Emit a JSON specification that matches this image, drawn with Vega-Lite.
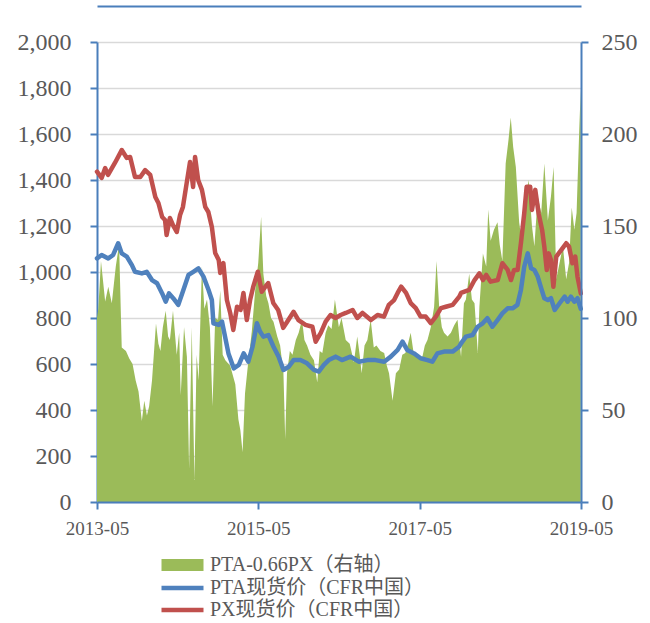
{
"$schema": "https://vega.github.io/schema/vega-lite/v6.json",
"width": 484, "height": 460,
"autosize": "none",
"padding": {"left": 97, "top": 42, "right": 69, "bottom": 121},
"background": "white",
"config": {
  "view": {"stroke": null},
  "font": "Liberation Serif, Noto Sans CJK SC",
  "axis": {"labelFont": "Liberation Serif", "labelColor": "#595959", "domainColor": "#4A7EBB", "domainWidth": 2, "tickColor": "#4A7EBB", "tickWidth": 2, "tickSize": 7, "gridColor": "#D9D9D9", "gridWidth": 1.5, "labelOverlap": false, "labelFlush": false, "title": null},
  "legend": {"labelFont": "Liberation Serif, Noto Sans CJK SC", "labelFontSize": 20, "labelColor": "#595959", "labelLimit": 400, "padding": 0, "symbolOpacity": 1}
},
"datasets": {
"px": [
{"d":"2013-05-01","v":1436},{"d":"2013-05-22","v":1409},{"d":"2013-06-07","v":1452},{"d":"2013-06-20","v":1422},{"d":"2013-07-21","v":1474},{"d":"2013-08-21","v":1530},{"d":"2013-09-13","v":1496},{"d":"2013-09-28","v":1500},{"d":"2013-10-20","v":1413},{"d":"2013-11-13","v":1413},{"d":"2013-12-05","v":1443},{"d":"2013-12-28","v":1422},
{"d":"2014-01-20","v":1326},{"d":"2014-02-03","v":1300},{"d":"2014-02-20","v":1239},{"d":"2014-03-05","v":1226},{"d":"2014-03-12","v":1161},{"d":"2014-03-27","v":1235},{"d":"2014-04-10","v":1204},{"d":"2014-04-27","v":1174},{"d":"2014-05-12","v":1248},{"d":"2014-05-25","v":1283},{"d":"2014-06-11","v":1387},{"d":"2014-06-26","v":1478},{"d":"2014-07-10","v":1370},{"d":"2014-07-19","v":1500},{"d":"2014-08-02","v":1400},{"d":"2014-08-19","v":1357},{"d":"2014-09-03","v":1283},{"d":"2014-09-17","v":1261},{"d":"2014-10-03","v":1196},{"d":"2014-10-18","v":1083},{"d":"2014-11-03","v":1052},{"d":"2014-11-10","v":996},{"d":"2014-11-24","v":1039},{"d":"2014-12-10","v":878},{"d":"2014-12-25","v":822},
{"d":"2015-01-08","v":748},{"d":"2015-01-25","v":849},{"d":"2015-02-10","v":835},{"d":"2015-02-23","v":909},{"d":"2015-03-10","v":791},{"d":"2015-03-25","v":878},{"d":"2015-04-08","v":935},{"d":"2015-04-29","v":1001},{"d":"2015-05-17","v":914},{"d":"2015-06-02","v":936},{"d":"2015-06-15","v":952},{"d":"2015-07-08","v":865},{"d":"2015-07-30","v":835},{"d":"2015-08-22","v":757},{"d":"2015-09-09","v":784},{"d":"2015-10-08","v":827},{"d":"2015-10-30","v":791},{"d":"2015-12-01","v":770},
{"d":"2016-01-01","v":762},{"d":"2016-01-16","v":697},{"d":"2016-02-08","v":735},{"d":"2016-03-01","v":784},{"d":"2016-03-23","v":813},{"d":"2016-04-15","v":800},{"d":"2016-05-08","v":813},{"d":"2016-05-31","v":822},{"d":"2016-07-01","v":835},{"d":"2016-07-22","v":800},{"d":"2016-08-15","v":822},{"d":"2016-09-22","v":791},{"d":"2016-10-22","v":813},{"d":"2016-11-20","v":806},{"d":"2016-12-12","v":857},
{"d":"2017-01-05","v":878},{"d":"2017-01-21","v":909},{"d":"2017-02-06","v":936},{"d":"2017-02-28","v":909},{"d":"2017-03-21","v":865},{"d":"2017-04-13","v":843},{"d":"2017-05-05","v":806},{"d":"2017-05-28","v":806},{"d":"2017-06-20","v":778},{"d":"2017-07-13","v":806},{"d":"2017-08-05","v":843},{"d":"2017-08-27","v":849},{"d":"2017-09-27","v":857},{"d":"2017-10-27","v":893},{"d":"2017-11-04","v":909},{"d":"2017-12-11","v":922},
{"d":"2018-01-04","v":965},{"d":"2018-01-26","v":994},{"d":"2018-02-11","v":965},{"d":"2018-02-26","v":987},{"d":"2018-03-18","v":958},{"d":"2018-04-19","v":965},{"d":"2018-05-10","v":1038},{"d":"2018-06-03","v":1009},{"d":"2018-06-18","v":965},{"d":"2018-07-02","v":1009},{"d":"2018-07-18","v":1009},{"d":"2018-08-02","v":1125},{"d":"2018-08-17","v":1255},{"d":"2018-08-28","v":1371},{"d":"2018-09-13","v":1371},{"d":"2018-09-21","v":1270},{"d":"2018-10-06","v":1357},{"d":"2018-10-21","v":1255},{"d":"2018-11-06","v":1183},{"d":"2018-11-16","v":1110},{"d":"2018-11-27","v":1009},{"d":"2018-12-06","v":1081},{"d":"2018-12-16","v":1052},{"d":"2018-12-27","v":936},
{"d":"2019-01-09","v":1067},{"d":"2019-02-01","v":1096},{"d":"2019-02-23","v":1125},{"d":"2019-03-08","v":1110},{"d":"2019-03-23","v":1038},{"d":"2019-04-05","v":1067},{"d":"2019-04-15","v":980},{"d":"2019-04-30","v":907}
],
"pta": [
{"d":"2013-05-01","v":1059},{"d":"2013-05-22","v":1074},{"d":"2013-06-21","v":1059},{"d":"2013-07-13","v":1074},{"d":"2013-08-05","v":1125},{"d":"2013-08-21","v":1081},{"d":"2013-09-13","v":1067},{"d":"2013-10-06","v":1030},{"d":"2013-10-20","v":1001},{"d":"2013-11-20","v":994},{"d":"2013-12-12","v":1001},
{"d":"2014-01-05","v":965},{"d":"2014-01-28","v":951},{"d":"2014-02-20","v":907},{"d":"2014-03-08","v":871},{"d":"2014-03-23","v":907},{"d":"2014-04-11","v":886},{"d":"2014-05-04","v":857},{"d":"2014-05-27","v":922},{"d":"2014-06-19","v":987},{"d":"2014-07-11","v":1001},{"d":"2014-08-03","v":1016},{"d":"2014-08-26","v":980},{"d":"2014-09-18","v":922},{"d":"2014-10-03","v":878},{"d":"2014-10-10","v":777},{"d":"2014-11-03","v":770},{"d":"2014-11-18","v":784},{"d":"2014-12-17","v":646},
{"d":"2015-01-10","v":581},{"d":"2015-02-02","v":596},{"d":"2015-02-24","v":646},{"d":"2015-03-17","v":610},{"d":"2015-04-05","v":675},{"d":"2015-04-25","v":777},{"d":"2015-05-09","v":741},{"d":"2015-05-24","v":719},{"d":"2015-06-16","v":726},{"d":"2015-07-09","v":675},{"d":"2015-08-01","v":632},{"d":"2015-08-23","v":574},{"d":"2015-09-16","v":588},{"d":"2015-10-08","v":617},{"d":"2015-11-08","v":617},{"d":"2015-12-08","v":603},
{"d":"2016-01-08","v":574},{"d":"2016-01-30","v":567},{"d":"2016-02-22","v":596},{"d":"2016-03-15","v":617},{"d":"2016-04-15","v":632},{"d":"2016-05-14","v":617},{"d":"2016-06-22","v":632},{"d":"2016-07-29","v":610},{"d":"2016-09-06","v":617},{"d":"2016-10-13","v":617},{"d":"2016-11-21","v":610},{"d":"2016-12-21","v":632},
{"d":"2017-01-21","v":661},{"d":"2017-02-12","v":697},{"d":"2017-03-05","v":661},{"d":"2017-04-05","v":646},{"d":"2017-05-05","v":625},{"d":"2017-06-05","v":617},{"d":"2017-06-27","v":610},{"d":"2017-07-20","v":646},{"d":"2017-08-19","v":654},{"d":"2017-09-27","v":654},{"d":"2017-10-26","v":675},{"d":"2017-11-04","v":690},{"d":"2017-11-26","v":719},{"d":"2017-12-26","v":726},
{"d":"2018-01-18","v":762},{"d":"2018-02-10","v":777},{"d":"2018-03-03","v":799},{"d":"2018-03-26","v":762},{"d":"2018-04-18","v":791},{"d":"2018-05-10","v":820},{"d":"2018-06-03","v":842},{"d":"2018-06-25","v":842},{"d":"2018-07-17","v":857},{"d":"2018-08-02","v":922},{"d":"2018-08-17","v":1023},{"d":"2018-09-02","v":1081},{"d":"2018-09-17","v":1016},{"d":"2018-10-02","v":1009},{"d":"2018-10-17","v":980},{"d":"2018-11-02","v":929},{"d":"2018-11-16","v":886},{"d":"2018-12-02","v":878},{"d":"2018-12-16","v":886},
{"d":"2019-01-02","v":835},{"d":"2019-01-24","v":864},{"d":"2019-02-16","v":893},{"d":"2019-03-01","v":871},{"d":"2019-03-16","v":893},{"d":"2019-04-01","v":871},{"d":"2019-04-15","v":886},{"d":"2019-04-30","v":840}
],
"spread": [
{"d":"2013-05-01","v":100},{"d":"2013-05-07","v":105},{"d":"2013-05-19","v":131},{"d":"2013-06-07","v":109},{"d":"2013-06-21","v":117},{"d":"2013-07-07","v":108},{"d":"2013-07-25","v":128},{"d":"2013-08-09","v":140},{"d":"2013-08-21","v":84},{"d":"2013-09-09","v":82},{"d":"2013-09-24","v":78},{"d":"2013-10-09","v":75},{"d":"2013-10-23","v":66},{"d":"2013-11-05","v":60},{"d":"2013-11-20","v":44},{"d":"2013-12-01","v":55},{"d":"2013-12-13","v":47},{"d":"2013-12-23","v":52},
{"d":"2014-01-05","v":66},{"d":"2014-01-23","v":97},{"d":"2014-02-03","v":86},{"d":"2014-02-12","v":82},{"d":"2014-02-23","v":95},{"d":"2014-03-08","v":104},{"d":"2014-03-19","v":90},{"d":"2014-03-27","v":88},{"d":"2014-04-10","v":104},{"d":"2014-04-27","v":80},{"d":"2014-05-08","v":92},{"d":"2014-05-15","v":58},{"d":"2014-05-30","v":95},{"d":"2014-06-12","v":79},{"d":"2014-06-22","v":18},{"d":"2014-07-04","v":95},{"d":"2014-07-16","v":12},{"d":"2014-07-26","v":80},{"d":"2014-08-04","v":66},{"d":"2014-08-19","v":128},{"d":"2014-08-30","v":105},{"d":"2014-09-11","v":110},{"d":"2014-09-24","v":95},{"d":"2014-10-06","v":52},{"d":"2014-10-18","v":100},{"d":"2014-10-31","v":99},{"d":"2014-11-10","v":115},{"d":"2014-11-21","v":80},{"d":"2014-12-03","v":77},{"d":"2014-12-25","v":74},
{"d":"2015-01-17","v":64},{"d":"2015-01-31","v":45},{"d":"2015-02-09","v":39},{"d":"2015-02-19","v":27},{"d":"2015-03-02","v":59},{"d":"2015-03-14","v":73},{"d":"2015-04-02","v":93},{"d":"2015-04-17","v":115},{"d":"2015-05-01","v":130},{"d":"2015-05-14","v":155},{"d":"2015-05-24","v":124},{"d":"2015-06-06","v":112},{"d":"2015-06-16","v":108},{"d":"2015-06-28","v":100},{"d":"2015-07-09","v":98},{"d":"2015-07-26","v":90},{"d":"2015-08-08","v":85},{"d":"2015-08-23","v":70},{"d":"2015-08-31","v":34},{"d":"2015-09-08","v":70},{"d":"2015-09-21","v":82},{"d":"2015-10-03","v":80},{"d":"2015-10-18","v":88},{"d":"2015-10-31","v":92},{"d":"2015-11-15","v":99},{"d":"2015-11-26","v":88},{"d":"2015-12-08","v":85},{"d":"2015-12-23","v":80},
{"d":"2016-01-08","v":77},{"d":"2016-01-23","v":65},{"d":"2016-02-03","v":82},{"d":"2016-02-15","v":81},{"d":"2016-03-01","v":92},{"d":"2016-03-13","v":96},{"d":"2016-03-28","v":94},{"d":"2016-04-12","v":110},{"d":"2016-04-30","v":95},{"d":"2016-05-12","v":100},{"d":"2016-05-31","v":88},{"d":"2016-06-18","v":86},{"d":"2016-07-07","v":76},{"d":"2016-07-22","v":90},{"d":"2016-08-02","v":80},{"d":"2016-08-11","v":70},{"d":"2016-08-24","v":85},{"d":"2016-09-06","v":88},{"d":"2016-09-21","v":99},{"d":"2016-10-05","v":84},{"d":"2016-10-17","v":85},{"d":"2016-11-04","v":82},{"d":"2016-11-21","v":81},{"d":"2016-12-03","v":74},{"d":"2016-12-13","v":70},{"d":"2016-12-29","v":55},
{"d":"2017-01-13","v":70},{"d":"2017-01-28","v":72},{"d":"2017-02-11","v":80},{"d":"2017-02-25","v":81},{"d":"2017-03-07","v":85},{"d":"2017-03-21","v":92},{"d":"2017-04-02","v":82},{"d":"2017-04-13","v":81},{"d":"2017-04-28","v":78},{"d":"2017-05-13","v":79},{"d":"2017-05-24","v":85},{"d":"2017-06-05","v":88},{"d":"2017-06-20","v":95},{"d":"2017-07-05","v":106},{"d":"2017-07-16","v":131},{"d":"2017-07-28","v":106},{"d":"2017-08-09","v":95},{"d":"2017-08-19","v":92},{"d":"2017-09-04","v":90},{"d":"2017-09-19","v":92},{"d":"2017-10-04","v":96},{"d":"2017-10-19","v":99},{"d":"2017-11-04","v":79},{"d":"2017-11-17","v":108},{"d":"2017-11-26","v":110},{"d":"2017-12-11","v":124},{"d":"2017-12-23","v":110},
{"d":"2018-01-04","v":108},{"d":"2018-01-19","v":81},{"d":"2018-01-26","v":106},{"d":"2018-02-11","v":135},{"d":"2018-02-26","v":128},{"d":"2018-03-07","v":159},{"d":"2018-03-18","v":142},{"d":"2018-04-02","v":148},{"d":"2018-04-18","v":152},{"d":"2018-04-28","v":140},{"d":"2018-05-10","v":131},{"d":"2018-05-25","v":184},{"d":"2018-06-07","v":197},{"d":"2018-06-17","v":209},{"d":"2018-06-28","v":193},{"d":"2018-07-10","v":182},{"d":"2018-07-25","v":152},{"d":"2018-08-09","v":139},{"d":"2018-08-24","v":166},{"d":"2018-09-06","v":175},{"d":"2018-09-21","v":150},{"d":"2018-10-02","v":139},{"d":"2018-10-17","v":166},{"d":"2018-11-02","v":157},{"d":"2018-11-16","v":184},{"d":"2018-12-02","v":153},{"d":"2018-12-16","v":166},{"d":"2018-12-28","v":182},
{"d":"2019-01-09","v":121},{"d":"2019-01-24","v":130},{"d":"2019-02-08","v":139},{"d":"2019-02-23","v":121},{"d":"2019-03-08","v":130},{"d":"2019-03-20","v":160},{"d":"2019-04-01","v":148},{"d":"2019-04-11","v":157},{"d":"2019-04-23","v":202},{"d":"2019-04-30","v":225}
]
},
"layer": [
 {"data": {"name": "spread"},
  "mark": {"type": "area", "interpolate": "linear", "opacity": 1},
  "encoding": {
   "x": {"field": "d", "type": "temporal", "scale": {"type": "utc", "domain": [{"year":2013,"month":5,"date":1,"utc":true},{"year":2019,"month":5,"date":1,"utc":true}], "nice": false},
         "axis": {"values": [{"year":2013,"month":5,"date":1,"utc":true},{"year":2015,"month":5,"date":1,"utc":true},{"year":2017,"month":5,"date":1,"utc":true},{"year":2019,"month":5,"date":1,"utc":true}], "format": "%Y-%m", "labelFontSize": 19, "labelPadding": 10, "grid": false, "zindex": 1}},
   "y": {"field": "v", "type": "quantitative", "scale": {"domain": [0, 250], "nice": false},
         "axis": {"orient": "right", "values": [0, 50, 100, 150, 200, 250], "grid": false, "labelFontSize": 24, "labelPadding": 13, "zindex": 1}},
   "fill": {"datum": "PTA-0.66PX（右轴）", "type": "nominal", "scale": {"domain": ["PTA-0.66PX（右轴）"], "range": ["#9BBB59"]},
            "legend": {"orient": "none", "legendX": 75.5, "legendY": 513, "title": null, "symbolType": "M-6,-1.7H6V1.7H-6Z", "symbolSize": 49, "symbolStrokeWidth": 0, "labelOffset": 17.5}}
  }},
 {"layer": [
  {"data": {"name": "pta"},
   "mark": {"type": "line", "strokeWidth": 4.5, "strokeJoin": "round", "strokeCap": "round"},
   "encoding": {
    "x": {"field": "d", "type": "temporal", "axis": {"orient": "top", "offset": 36, "labels": false, "ticks": false, "grid": false, "domainColor": "#4A7EBB", "domainWidth": 2}},
    "y": {"field": "v", "type": "quantitative", "scale": {"domain": [0, 2000], "nice": false},
          "axis": {"orient": "left", "values": [0,200,400,600,800,1000,1200,1400,1600,1800,2000], "format": ",d", "grid": true, "labelFontSize": 24, "labelPadding": 19, "zindex": 0}},
    "stroke": {"datum": "PTA现货价（CFR中国）", "type": "nominal", "scale": {"domain": ["PTA现货价（CFR中国）", "PX现货价（CFR中国）"], "range": ["#4F81BD", "#C0504D"]},
               "legend": {"orient": "none", "legendX": 75.5, "legendY": 536, "title": null, "symbolType": "M-6,0H6", "symbolSize": 49, "symbolStrokeWidth": 4.5, "symbolFillColor": "transparent", "labelOffset": 17.5, "rowPadding": 2}}
   }},
  {"data": {"name": "px"},
   "mark": {"type": "line", "strokeWidth": 4.5, "strokeJoin": "round", "strokeCap": "round"},
   "encoding": {
    "x": {"field": "d", "type": "temporal"},
    "y": {"field": "v", "type": "quantitative"},
    "stroke": {"datum": "PX现货价（CFR中国）", "type": "nominal"}
   }}
 ]}
],
"resolve": {"scale": {"y": "independent"}, "axis": {"x": "independent"}}
}
